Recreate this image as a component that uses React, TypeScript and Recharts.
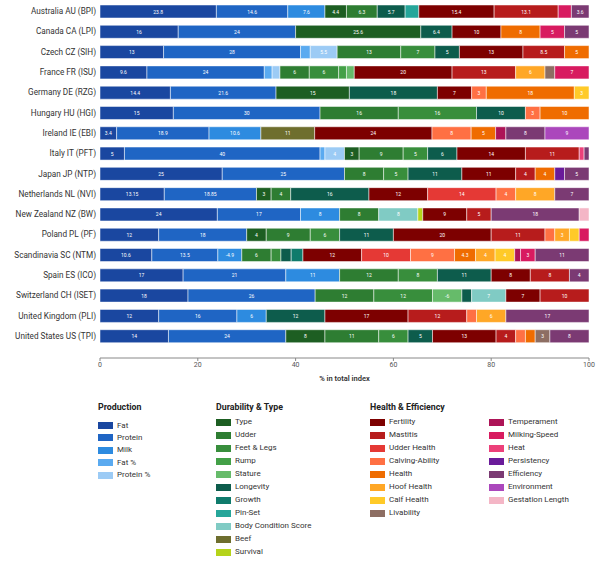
import { BarChart, Bar, XAxis, YAxis, LabelList } from 'recharts'

type Seg = [string, number]

const countries = [
  'Australia AU (BPI)',
  'Canada CA (LPI)',
  'Czech CZ (SIH)',
  'France FR (ISU)',
  'Germany DE (RZG)',
  'Hungary HU (HGI)',
  'Ireland IE (EBI)',
  'Italy IT (PFT)',
  'Japan JP (NTP)',
  'Netherlands NL (NVI)',
  'New Zealand NZ (BW)',
  'Poland PL (PF)',
  'Scandinavia SC (NTM)',
  'Spain ES (ICO)',
  'Switzerland CH (ISET)',
  'United Kingdom (PLI)',
  'United States US (TPI)'
]

const production = ['Fat', 'Protein', 'Milk', 'Fat %', 'Protein %']
const durability = ['Type', 'Udder', 'Feet & Legs', 'Rump', 'Stature', 'Longevity', 'Growth', 'Pin-Set', 'Body Condition Score', 'Beef', 'Survival']
const healthA = ['Fertility', 'Mastitis', 'Udder Health', 'Calving-Ability', 'Health', 'Hoof Health', 'Calf Health', 'Livability']
const healthB = ['Temperament', 'Milking-Speed', 'Heat', 'Persistency', 'Efficiency', 'Environment', 'Gestation Length']
const traits = [...production, ...durability, ...healthA, ...healthB]

const australia: Seg[] = [['Fat', 23.8], ['Protein', 14.6], ['Milk', 7.6], ['Type', 4.4], ['Udder', 6.3], ['Longevity', 5.7], ['Pin-Set', 2.8], ['Fertility', 15.4], ['Mastitis', 13.1], ['Milking-Speed', 2.7], ['Efficiency', 3.6]]
const canada: Seg[] = [['Fat', 16], ['Protein', 24], ['Type', 25.6], ['Longevity', 6.4], ['Fertility', 10], ['Health', 8], ['Milking-Speed', 5], ['Efficiency', 5]]
const czech: Seg[] = [['Fat', 13], ['Protein', 28], ['Fat %', 2], ['Protein %', 5.5], ['Udder', 13], ['Feet & Legs', 7], ['Longevity', 5], ['Fertility', 13], ['Mastitis', 8.5], ['Health', 5]]
const france: Seg[] = [['Fat', 9.6], ['Protein', 24], ['Fat %', 1.6], ['Protein %', 1.6], ['Udder', 6], ['Feet & Legs', 6], ['Rump', 1.6], ['Stature', 1.6], ['Fertility', 20], ['Mastitis', 13], ['Hoof Health', 6], ['Livability', 2], ['Milking-Speed', 7]]
const germany: Seg[] = [['Fat', 14.4], ['Protein', 21.6], ['Type', 15], ['Longevity', 18], ['Fertility', 7], ['Calving-Ability', 3], ['Health', 18], ['Calf Health', 3]]
const hungary: Seg[] = [['Fat', 15], ['Protein', 30], ['Udder', 16], ['Feet & Legs', 16], ['Longevity', 10], ['Calving-Ability', 3], ['Health', 10]]
const ireland: Seg[] = [['Fat', 3.4], ['Protein', 18.9], ['Milk', 10.6], ['Beef', 11], ['Fertility', 24], ['Calving-Ability', 8], ['Health', 5], ['Temperament', 2.1], ['Efficiency', 8], ['Environment', 9]]
const italy: Seg[] = [['Fat', 5], ['Protein', 40], ['Fat %', 1], ['Protein %', 4], ['Type', 3], ['Udder', 9], ['Feet & Legs', 5], ['Longevity', 6], ['Fertility', 14], ['Mastitis', 11], ['Heat', 1], ['Efficiency', 1]]
const japan: Seg[] = [['Fat', 25], ['Protein', 25], ['Udder', 8], ['Feet & Legs', 5], ['Longevity', 11], ['Fertility', 11], ['Mastitis', 4], ['Health', 4], ['Persistency', 2], ['Efficiency', 5]]
const netherlands: Seg[] = [['Fat', 13.15], ['Protein', 18.85], ['Type', 3], ['Udder', 4], ['Longevity', 16], ['Fertility', 12], ['Udder Health', 14], ['Calving-Ability', 4], ['Hoof Health', 8], ['Efficiency', 7]]
const newZealand: Seg[] = [['Fat', 24], ['Protein', 17], ['Milk', 8], ['Udder', 8], ['Body Condition Score', 8], ['Survival', 1], ['Fertility', 9], ['Mastitis', 5], ['Efficiency', 18], ['Gestation Length', 2]]
const poland: Seg[] = [['Fat', 12], ['Protein', 18], ['Type', 4], ['Udder', 9], ['Feet & Legs', 6], ['Longevity', 11], ['Fertility', 20], ['Mastitis', 11], ['Calving-Ability', 2], ['Hoof Health', 3], ['Calf Health', 2], ['Milking-Speed', 2]]
const scandinavia: Seg[] = [['Fat', 10.6], ['Protein', 13.5], ['Milk', -4.9], ['Udder', 6], ['Feet & Legs', 2], ['Longevity', 2.1], ['Growth', 2.4], ['Fertility', 12], ['Udder Health', 10], ['Calving-Ability', 9], ['Health', 4.3], ['Hoof Health', 4], ['Calf Health', 4], ['Temperament', 1.2], ['Milking-Speed', 3], ['Efficiency', 11]]
const spain: Seg[] = [['Fat', 17], ['Protein', 21], ['Milk', 11], ['Udder', 12], ['Feet & Legs', 8], ['Longevity', 11], ['Fertility', 8], ['Mastitis', 8], ['Efficiency', 4]]
const switzerland: Seg[] = [['Fat', 18], ['Protein', 26], ['Udder', 12], ['Feet & Legs', 12], ['Stature', -6], ['Longevity', 2], ['Body Condition Score', 7], ['Fertility', 7], ['Mastitis', 10]]
const unitedKingdom: Seg[] = [['Fat', 12], ['Protein', 16], ['Milk', 6], ['Longevity', 12], ['Fertility', 17], ['Mastitis', 12], ['Calving-Ability', 2], ['Hoof Health', 6], ['Efficiency', 17]]
const unitedStates: Seg[] = [['Fat', 14], ['Protein', 24], ['Type', 8], ['Udder', 11], ['Feet & Legs', 6], ['Longevity', 5], ['Fertility', 13], ['Mastitis', 4], ['Calving-Ability', 2], ['Health', 2], ['Livability', 3], ['Efficiency', 8]]

const rows = [australia, canada, czech, france, germany, hungary, ireland, italy, japan, netherlands, newZealand, poland, scandinavia, spain, switzerland, unitedKingdom, unitedStates]

const COLORS: Record<string, string> = {
  'Fat': '#1a47a0',
  'Protein': '#1f65c4',
  'Milk': '#2d8be0',
  'Fat %': '#5aaaf0',
  'Protein %': '#9ccbf5',
  'Type': '#1d5e22',
  'Udder': '#2e7d32',
  'Feet & Legs': '#388e3c',
  'Rump': '#43a047',
  'Stature': '#66bb6a',
  'Longevity': '#0d5c4c',
  'Growth': '#0f7b6c',
  'Pin-Set': '#26a69a',
  'Body Condition Score': '#80cbc4',
  'Beef': '#6e6e2e',
  'Survival': '#b5d31a',
  'Fertility': '#7d0000',
  'Mastitis': '#b71c1c',
  'Udder Health': '#e53935',
  'Calving-Ability': '#ff7043',
  'Health': '#ef6c00',
  'Hoof Health': '#ffa726',
  'Calf Health': '#ffca28',
  'Livability': '#8d6e63',
  'Temperament': '#ad1457',
  'Milking-Speed': '#d81b60',
  'Heat': '#ec407a',
  'Persistency': '#6a1b9a',
  'Efficiency': '#7b3a73',
  'Environment': '#ab47bc',
  'Gestation Length': '#f4b6c6'
}

// bar widths use the absolute weight, the signed weight only goes in the label
const table = countries.map((name, i) => {
  const row: Record<string, string | number> = { name }
  traits.forEach(t => {
    row[t] = 0
    row[t + '__lbl'] = ''
  })
  rows[i].forEach(([t, v]) => {
    row[t] = Math.abs(v)
    row[t + '__lbl'] = Math.abs(v) >= 3 ? String(v) : ''
  })
  return row
})

const SegLabel = (props: any) => {
  const { x, y, width, height, value } = props
  if (!value) return null
  return (
    <text
      x={Number(x) + Number(width) / 2}
      y={Number(y) + Number(height) / 2}
      fill="#fff"
      fontSize={5}
      textAnchor="middle"
      dominantBaseline="central"
    >
      {value}
    </text>
  )
}

const CountryTick = (props: any) => {
  const { x, y, payload } = props
  return (
    <text x={x} y={y} textAnchor="end" dominantBaseline="central" fontSize={8.2} fill="#333" fontFamily="Roboto, sans-serif">
      {payload.value}
    </text>
  )
}

const legendCols = [
  { title: 'Production', x: 98, items: production },
  { title: 'Durability & Type', x: 216, items: durability },
  { title: 'Health & Efficiency', x: 370, items: healthA },
  { title: '', x: 489, items: healthB }
]

function Legend() {
  return (
    <>
      {legendCols.map(col => (
        <div key={col.x}>
          {col.title && (
            <div style={{ position: 'absolute', left: col.x, top: 401, fontSize: 8.8, fontWeight: 700, color: '#222', lineHeight: '12px' }}>
              {col.title}
            </div>
          )}
          {col.items.map((item, i) => {
            const step = col.x === 98 ? 12.4 : 13
            const cy = (col.x === 98 ? 425.5 : 422.3) + i * step
            return (
              <div key={item}>
                <div style={{ position: 'absolute', left: col.x, top: cy - 3.5, width: 15, height: 7, background: COLORS[item] }} />
                <div style={{ position: 'absolute', left: col.x + 19, top: cy - 6, fontSize: 8, lineHeight: '12px', color: '#333' }}>
                  {item}
                </div>
              </div>
            )
          })}
        </div>
      ))}
    </>
  )
}

export default function App() {
  return (
    <div style={{ position: 'absolute', left: 0, top: 0, width: 605, height: 578, background: '#fff', fontFamily: 'Roboto, sans-serif' }}>
      <BarChart
        width={605}
        height={390}
        data={table}
        layout="vertical"
        margin={{ top: 1, right: 16, bottom: 2, left: 0 }}
        barSize={13}
      >
        <XAxis
          type="number"
          domain={[0, 100]}
          ticks={[0, 20, 40, 60, 80, 100]}
          height={30}
          stroke="#888"
          tickSize={3}
          tickMargin={1}
          tick={{ fontSize: 7, fill: '#555' }}
          label={{ value: '% in total index', position: 'insideBottom', offset: 7, fontSize: 7.5, fontWeight: 600, fill: '#333' }}
        />
        <YAxis
          type="category"
          dataKey="name"
          width={100}
          axisLine={false}
          tickLine={false}
          tickSize={2}
          tickMargin={2}
          interval={0}
          padding={{ top: 0, bottom: 12 }}
          tick={<CountryTick />}
        />
        {traits.map(t => (
          <Bar
            key={t}
            dataKey={t}
            stackId="a"
            fill={COLORS[t]}
            stroke="#fff"
            strokeWidth={0.5}
            isAnimationActive={false}
          >
            <LabelList dataKey={t + '__lbl'} content={SegLabel} />
          </Bar>
        ))}
      </BarChart>
      <Legend />
    </div>
  )
}
